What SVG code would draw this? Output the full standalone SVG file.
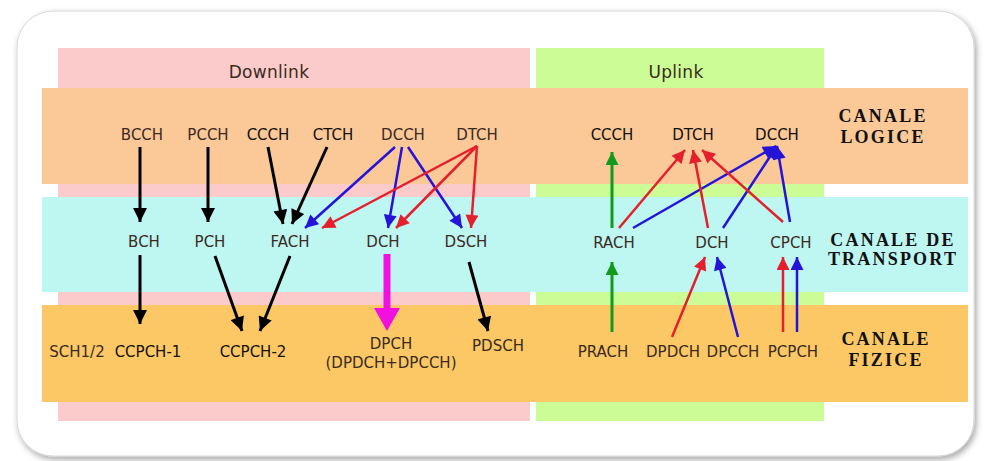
<svg xmlns="http://www.w3.org/2000/svg" width="985" height="461" viewBox="0 0 985 461">
<style>
  .t { font-family: "DejaVu Sans", "Liberation Sans", sans-serif; font-size: 15px; fill: #3a2a22; text-anchor: middle; }
  .d { fill: #141010; }
  .hdr { font-family: "DejaVu Sans", "Liberation Sans", sans-serif; font-size: 17px; fill: #3a2a22; text-anchor: middle; letter-spacing: 0.3px; }
  .side { font-family: "Liberation Serif", "Times New Roman", serif; font-size: 18px; font-weight: bold; fill: #111; text-anchor: middle; letter-spacing: 2.2px; }
  .k { stroke: #000; stroke-width: 3; fill: none; marker-end: url(#ak); }
  .r { stroke: #e3202c; stroke-width: 2.5; fill: none; marker-end: url(#ar); }
  .b { stroke: #2414d8; stroke-width: 2.5; fill: none; marker-end: url(#ab); }
  .g { stroke: #139a1c; stroke-width: 3; fill: none; marker-end: url(#ag); }
</style>
<defs>
  <filter id="sh" x="-5%" y="-5%" width="110%" height="115%">
    <feGaussianBlur in="SourceAlpha" stdDeviation="3"/>
    <feOffset dx="2" dy="3" result="o"/>
    <feFlood flood-color="#000" flood-opacity="0.35"/>
    <feComposite in2="o" operator="in"/>
    <feMerge><feMergeNode/><feMergeNode in="SourceGraphic"/></feMerge>
  </filter>
  <marker id="ak" viewBox="0 0 10 10" refX="10" refY="5" markerWidth="15" markerHeight="14" markerUnits="userSpaceOnUse" orient="auto"><path d="M0,0 L10,5 L0,10 z" fill="#000"/></marker>
  <marker id="ar" viewBox="0 0 10 10" refX="10" refY="5" markerWidth="14" markerHeight="13" markerUnits="userSpaceOnUse" orient="auto"><path d="M0,0 L10,5 L0,10 z" fill="#e3202c"/></marker>
  <marker id="ab" viewBox="0 0 10 10" refX="10" refY="5" markerWidth="14" markerHeight="13" markerUnits="userSpaceOnUse" orient="auto"><path d="M0,0 L10,5 L0,10 z" fill="#2414d8"/></marker>
  <marker id="ag" viewBox="0 0 10 10" refX="10" refY="5" markerWidth="14" markerHeight="13" markerUnits="userSpaceOnUse" orient="auto"><path d="M0,0 L10,5 L0,10 z" fill="#139a1c"/></marker>
</defs>

<rect width="985" height="461" fill="#ffffff"/>
<rect x="17" y="11" width="957" height="445" rx="36" ry="36" fill="#ffffff" stroke="#d8d8d8" stroke-width="1" filter="url(#sh)"/>

<g id="columns">
  <rect x="58" y="48" width="472" height="373" fill="#fbcaca"/>
  <rect x="536" y="48" width="288" height="373" fill="#ccfc96"/>
  <text class="hdr" x="269" y="78">Downlink</text>
  <text class="hdr" x="676" y="78">Uplink</text>
</g>

<g id="bands">
  <rect x="42" y="88" width="926" height="96" fill="#fbc898"/>
  <rect x="42" y="197" width="926" height="95" fill="#bef6f2"/>
  <rect x="42" y="305" width="926" height="97" fill="#fbc865"/>
</g>

<g id="band-labels">
  <text class="side" x="883" y="122">CANALE</text>
  <text class="side" x="883" y="143">LOGICE</text>
  <text class="side" x="893" y="246">CANALE DE</text>
  <text class="side" x="893" y="265">TRANSPORT</text>
  <text class="side" x="886" y="345">CANALE</text>
  <text class="side" x="886" y="366">FIZICE</text>
</g>

<g id="connectors">
  <line class="k" x1="140" y1="147" x2="140" y2="222"/>
  <line class="k" x1="208" y1="147" x2="208" y2="222"/>
  <line class="k" x1="268" y1="147" x2="283" y2="224"/>
  <line class="k" x1="327" y1="147" x2="292" y2="224"/>
  <line class="b" x1="395" y1="147" x2="305" y2="228"/>
  <line class="b" x1="402" y1="147" x2="388" y2="228"/>
  <line class="b" x1="408" y1="147" x2="462" y2="228"/>
  <line class="r" x1="477" y1="146" x2="322" y2="228"/>
  <line class="r" x1="477" y1="146" x2="396" y2="228"/>
  <line class="r" x1="477" y1="146" x2="471" y2="228"/>
  <line class="k" x1="140" y1="255" x2="140" y2="324"/>
  <line class="k" x1="215" y1="256" x2="242" y2="331"/>
  <line class="k" x1="290" y1="256" x2="260" y2="331"/>
  <polygon points="383.5,254 390.5,254 390.5,308 400,308 387,331 374,308 383.5,308" fill="#f010e0"/>
  <line class="k" x1="469" y1="262" x2="488" y2="331"/>
  <line class="g" x1="612" y1="228" x2="612" y2="152"/>
  <line class="r" x1="619" y1="228" x2="685" y2="150"/>
  <line class="b" x1="633" y1="228" x2="776" y2="146"/>
  <line class="r" x1="708" y1="228" x2="693" y2="150"/>
  <line class="b" x1="723" y1="228" x2="777" y2="146"/>
  <line class="r" x1="783" y1="222" x2="702" y2="150"/>
  <line class="b" x1="790" y1="222" x2="777" y2="146"/>
  <line class="g" x1="612" y1="332" x2="612" y2="262"/>
  <line class="r" x1="672" y1="337" x2="705" y2="257"/>
  <line class="b" x1="738" y1="337" x2="717" y2="257"/>
  <line class="r" x1="783" y1="332" x2="783" y2="257"/>
  <line class="b" x1="797" y1="332" x2="797" y2="257"/>
</g>

<g id="dl-logical">
  <g id="n-bcch"><text class="t" x="142" y="140">BCCH</text></g>
  <g id="n-pcch"><text class="t" x="208" y="140">PCCH</text></g>
  <g id="n-ccch-dl"><text class="t d" x="268" y="140">CCCH</text></g>
  <g id="n-ctch"><text class="t d" x="333" y="140">CTCH</text></g>
  <g id="n-dcch-dl"><text class="t" x="403" y="140">DCCH</text></g>
  <g id="n-dtch-dl"><text class="t" x="477" y="140">DTCH</text></g>
</g>
<g id="dl-transport">
  <g id="n-bch"><text class="t" x="144" y="247">BCH</text></g>
  <g id="n-pch"><text class="t" x="210" y="247">PCH</text></g>
  <g id="n-fach"><text class="t" x="290" y="247">FACH</text></g>
  <g id="n-dch-dl"><text class="t" x="383" y="247">DCH</text></g>
  <g id="n-dsch"><text class="t" x="466" y="247">DSCH</text></g>
</g>
<g id="dl-physical">
  <g id="n-sch"><text class="t" x="77" y="357">SCH1/2</text></g>
  <g id="n-ccpch1"><text class="t d" x="148" y="357">CCPCH-1</text></g>
  <g id="n-ccpch2"><text class="t d" x="253" y="357">CCPCH-2</text></g>
  <g id="n-dpch"><text class="t" x="391" y="349">DPCH</text><text class="t" x="391" y="368">(DPDCH+DPCCH)</text></g>
  <g id="n-pdsch"><text class="t" x="498" y="351">PDSCH</text></g>
</g>
<g id="ul-logical">
  <g id="n-ccch-ul"><text class="t d" x="612" y="140">CCCH</text></g>
  <g id="n-dtch-ul"><text class="t d" x="693" y="140">DTCH</text></g>
  <g id="n-dcch-ul"><text class="t d" x="777" y="140">DCCH</text></g>
</g>
<g id="ul-transport">
  <g id="n-rach"><text class="t" x="614" y="248">RACH</text></g>
  <g id="n-dch-ul"><text class="t" x="712" y="248">DCH</text></g>
  <g id="n-cpch"><text class="t" x="791" y="248">CPCH</text></g>
</g>
<g id="ul-physical">
  <g id="n-prach"><text class="t" x="603" y="357">PRACH</text></g>
  <g id="n-dpdch"><text class="t" x="673" y="357">DPDCH</text></g>
  <g id="n-dpcch"><text class="t" x="733" y="357">DPCCH</text></g>
  <g id="n-pcpch"><text class="t" x="793" y="357">PCPCH</text></g>
</g>
</svg>
